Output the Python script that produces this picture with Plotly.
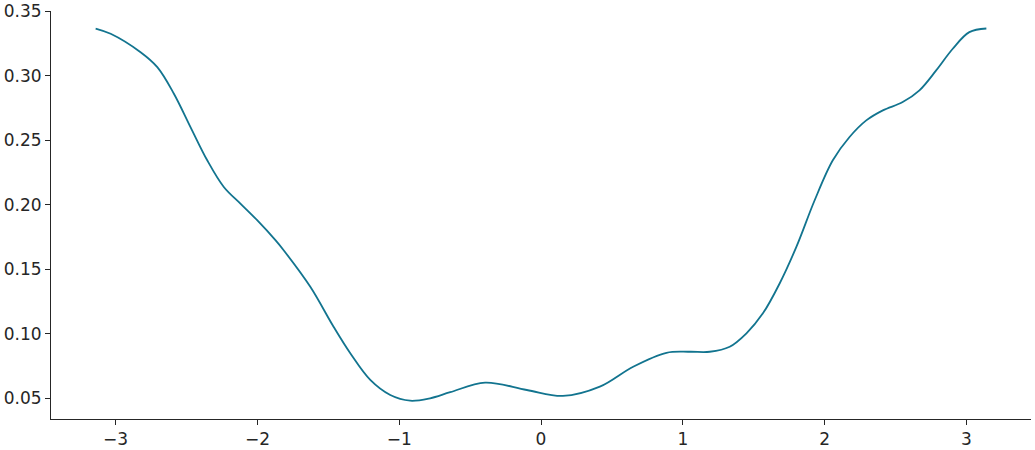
import plotly.graph_objects as go

# KDE-like curve
x_vals = [-3.141, -3.035, -2.824, -2.706, -2.589, -2.472, -2.354, -2.237, -2.120, -2.002,
          -1.873, -1.815, -1.627, -1.463, -1.345, -1.204, -1.063, -0.923, -0.782, -0.64,
          -0.394, -0.10, 0.155, 0.415, 0.65, 0.885, 1.049, 1.190, 1.331, 1.449,
          1.565, 1.683, 1.801, 1.930, 2.058, 2.176, 2.294, 2.411, 2.551, 2.669,
          2.787, 2.904, 3.021, 3.141]
y_vals = [0.3368, 0.3327, 0.3184, 0.3068, 0.2862, 0.2603, 0.2345, 0.2138, 0.2009, 0.1880,
          0.1725, 0.1647, 0.1363, 0.1053, 0.0847, 0.0640, 0.0523, 0.0479, 0.0498, 0.0545,
          0.0619, 0.0562, 0.0516, 0.0588, 0.0743, 0.0851, 0.0859, 0.0859, 0.0898, 0.1002,
          0.1157, 0.1389, 0.1673, 0.2035, 0.2345, 0.2526, 0.2655, 0.2733, 0.2797, 0.2888,
          0.3043, 0.3211, 0.3340, 0.3368]

x_ticks = [-3, -2, -1, 0, 1, 2, 3]
y_ticks = [0.05, 0.10, 0.15, 0.20, 0.25, 0.30, 0.35]

LINE = "#12748f"
INK = "#262626"

fig = go.Figure()
fig.add_trace(go.Scatter(
    x=x_vals, y=y_vals, mode="lines",
    line=dict(color=LINE, width=1.8, shape="spline", smoothing=1.0),
    hoverinfo="skip", showlegend=False,
))

ax = dict(showgrid=False, zeroline=False, showline=True, linecolor=INK, linewidth=1,
          ticks="outside", ticklen=5, tickwidth=1, tickcolor=INK, automargin=False,
          tickfont=dict(family="DejaVu Sans", size=17, color=INK))
fig.update_xaxes(**ax, range=[-3.4558, 3.4558], tickvals=x_ticks)
fig.update_yaxes(**ax, range=[0.0337, 0.3504], tickvals=y_ticks,
                 ticktext=[f"{v:.2f}" for v in y_ticks])

fig.update_layout(
    width=1035, height=450,
    paper_bgcolor="white", plot_bgcolor="white",
    margin=dict(l=51, r=4, t=11, b=31),
)

# drop the default 8px page margin so the figure fills the window
fig.write_html("out.html", config={"displayModeBar": False},
               post_script="document.body.style.margin='0';")
